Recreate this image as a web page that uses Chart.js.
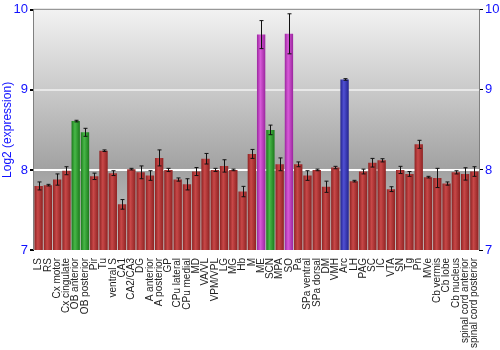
<!DOCTYPE html>
<html>
<head>
<meta charset="utf-8">
<script src="https://cdn.jsdelivr.net/npm/chart.js@4"></script>
<style>
  html, body { margin: 0; padding: 0; background: #fff; }
  #wrap { width: 500px; height: 350px; }
</style>
</head>
<body>
<div id="wrap"><canvas id="grafico" width="500" height="350"></canvas></div>
<script>
const regiones = ['LS', 'RS', 'Cx motor', 'Cx cingulate', 'OB anterior', 'OB posterior', 'Pir', 'Tu',
    'ventral S', 'CA1', 'CA2/CA3', 'DG', 'A anterior', 'A posterior', 'GP', 'CPu lateral', 'CPu medial',
    'MD', 'VA/VL', 'VPM/VPL', 'LG', 'MG', 'Hb', 'M', 'ME', 'SCN', 'MPA', 'SO', 'Pa', 'SPa ventral',
    'SPa dorsal', 'DM', 'VMH', 'Arc', 'LH', 'PAG', 'SC', 'IC', 'VTA', 'SN', 'Tg', 'Pn', 'MVe',
    'Cb vermis', 'Cb lobe', 'Cb nucleus', 'spinal cord anterior', 'spinal cord posterior'];

const expresion = [7.80, 7.81, 7.88, 7.99, 8.61, 8.47, 7.92, 8.24,
    7.96, 7.57, 8.01, 7.97, 7.93, 8.15, 8.00, 7.88, 7.82,
    7.98, 8.14, 8.00, 8.05, 8.00, 7.73, 8.20, 9.69, 8.50, 8.07, 9.70, 8.07, 7.93,
    8.00, 7.79, 8.03, 9.13, 7.86, 7.98, 8.09, 8.12, 7.76, 8.00, 7.95, 8.32, 7.91,
    7.90, 7.83, 7.97, 7.95, 7.98];

const errores = [0.05, 0.01, 0.07, 0.05, 0.01, 0.05, 0.04, 0.01,
    0.03, 0.06, 0.01, 0.08, 0.06, 0.10, 0.02, 0.02, 0.07,
    0.05, 0.066, 0.02, 0.077, 0.01, 0.065, 0.056, 0.175, 0.06, 0.08, 0.25, 0.03, 0.06,
    0.01, 0.07, 0.015, 0.01, 0.01, 0.03, 0.054, 0.02, 0.03, 0.045, 0.03, 0.05, 0.01,
    0.12, 0.02, 0.02, 0.077, 0.06];

// grupo de color por region: r = rojo, g = verde, m = magenta, b = azul
const grupos = ['r', 'r', 'r', 'r', 'g', 'g', 'r', 'r',
    'r', 'r', 'r', 'r', 'r', 'r', 'r', 'r', 'r',
    'r', 'r', 'r', 'r', 'r', 'r', 'r', 'm', 'g', 'r', 'm', 'r', 'r',
    'r', 'r', 'r', 'b', 'r', 'r', 'r', 'r', 'r', 'r', 'r', 'r', 'r',
    'r', 'r', 'r', 'r', 'r'];

const colores = {
    r: ['#8e2222', '#c84848', '#b03030'],
    g: ['#1c7a1c', '#48b848', '#2e962e'],
    m: ['#9a269e', '#d85ad8', '#b838bc'],
    b: ['#24248e', '#5050d4', '#3434b0']
};

function colorBarra(c) {
    const chart = c.chart;
    const g = colores[grupos[c.dataIndex]] || colores.r;
    if (!chart.chartArea || !chart.scales.x) return g[2];
    const x = chart.scales.x.getPixelForValue(c.dataIndex);
    const w = (chart.chartArea.width / regiones.length) * 0.9;
    const grad = chart.ctx.createLinearGradient(x - w / 2, 0, x + w / 2, 0);
    grad.addColorStop(0, g[0]);
    grad.addColorStop(0.4, g[1]);
    grad.addColorStop(1, g[0]);
    return grad;
}

const fondo = {
    id: 'fondo',
    beforeDraw(chart) {
        const { ctx, chartArea: a } = chart;
        const grad = ctx.createLinearGradient(0, a.top, 0, a.bottom);
        grad.addColorStop(0, '#f2f2f2');
        grad.addColorStop(0.66, '#a2a2a2');
        grad.addColorStop(1, '#c8c8c8');
        ctx.save();
        ctx.fillStyle = grad;
        ctx.fillRect(a.left, a.top, a.width, a.height);
        ctx.restore();
    },
    afterDraw(chart) {
        const { ctx, chartArea: a } = chart;
        ctx.save();
        ctx.strokeStyle = '#808080';
        ctx.lineWidth = 1;
        ctx.beginPath();
        ctx.moveTo(a.left - 0.5, a.bottom);
        ctx.lineTo(a.left - 0.5, a.top - 0.5);
        ctx.lineTo(a.right + 0.5, a.top - 0.5);
        ctx.lineTo(a.right + 0.5, a.bottom);
        ctx.stroke();
        ctx.restore();
    }
};

const barrasError = {
    id: 'barrasError',
    afterDatasetsDraw(chart) {
        const { ctx } = chart;
        const y = chart.scales.y;
        const meta = chart.getDatasetMeta(0);
        ctx.save();
        ctx.strokeStyle = '#111';
        ctx.lineWidth = 1;
        meta.data.forEach((bar, i) => {
            const x = Math.round(bar.x) + 0.5;
            const arriba = y.getPixelForValue(expresion[i] + errores[i]);
            const abajo = y.getPixelForValue(expresion[i] - errores[i]);
            ctx.beginPath();
            ctx.moveTo(x, arriba);
            ctx.lineTo(x, abajo);
            ctx.moveTo(x - 2, arriba);
            ctx.lineTo(x + 2, arriba);
            ctx.moveTo(x - 2, abajo);
            ctx.lineTo(x + 2, abajo);
            ctx.stroke();
        });
        ctx.restore();
    }
};

const azul = '#1010ff';

new Chart(document.getElementById('grafico'), {
    type: 'bar',
    data: {
        labels: regiones,
        datasets: [{
            label: 'Log2 (expression)',
            data: expresion.map(v => [7, v]),
            backgroundColor: colorBarra,
            borderWidth: 0,
            barPercentage: 0.9,
            categoryPercentage: 1
        }]
    },
    options: {
        responsive: false,
        animation: false,
        layout: { padding: { top: 9, right: 0, left: 0, bottom: 0 } },
        plugins: {
            legend: { display: false },
            tooltip: { enabled: false }
        },
        scales: {
            x: {
                grid: { display: false },
                border: { display: false },
                ticks: {
                    minRotation: 90,
                    maxRotation: 90,
                    autoSkip: false,
                    padding: 0,
                    color: '#222',
                    font: { family: 'Liberation Sans', size: 10 }
                },
                afterFit(s) { s.height = 100; }
            },
            y: {
                position: 'left',
                min: 7,
                max: 10,
                ticks: {
                    stepSize: 1,
                    color: azul,
                    padding: 2,
                    font: { family: 'Liberation Sans', size: 13 }
                },
                grid: {
                    color: c => (c.tick.value === 8 ? '#ffffff' : c.tick.value === 9 ? '#e8e8e8' : 'rgba(0,0,0,0)'),
                    lineWidth: 2,
                    tickColor: '#000',
                    tickLength: 4
                },
                border: { display: false },
                title: {
                    display: true,
                    text: 'Log2 (expression)',
                    color: azul,
                    padding: 0,
                    font: { family: 'Liberation Sans', size: 12 }
                },
                afterFit(s) { s.width = 34; }
            },
            y2: {
                position: 'right',
                min: 7,
                max: 10,
                ticks: {
                    stepSize: 1,
                    color: azul,
                    padding: 2,
                    font: { family: 'Liberation Sans', size: 13 }
                },
                grid: {
                    drawOnChartArea: false,
                    tickColor: '#000',
                    tickLength: 4
                },
                border: { display: false },
                afterFit(s) { s.width = 21; }
            }
        }
    },
    plugins: [fondo, barrasError]
});
</script>
</body>
</html>
